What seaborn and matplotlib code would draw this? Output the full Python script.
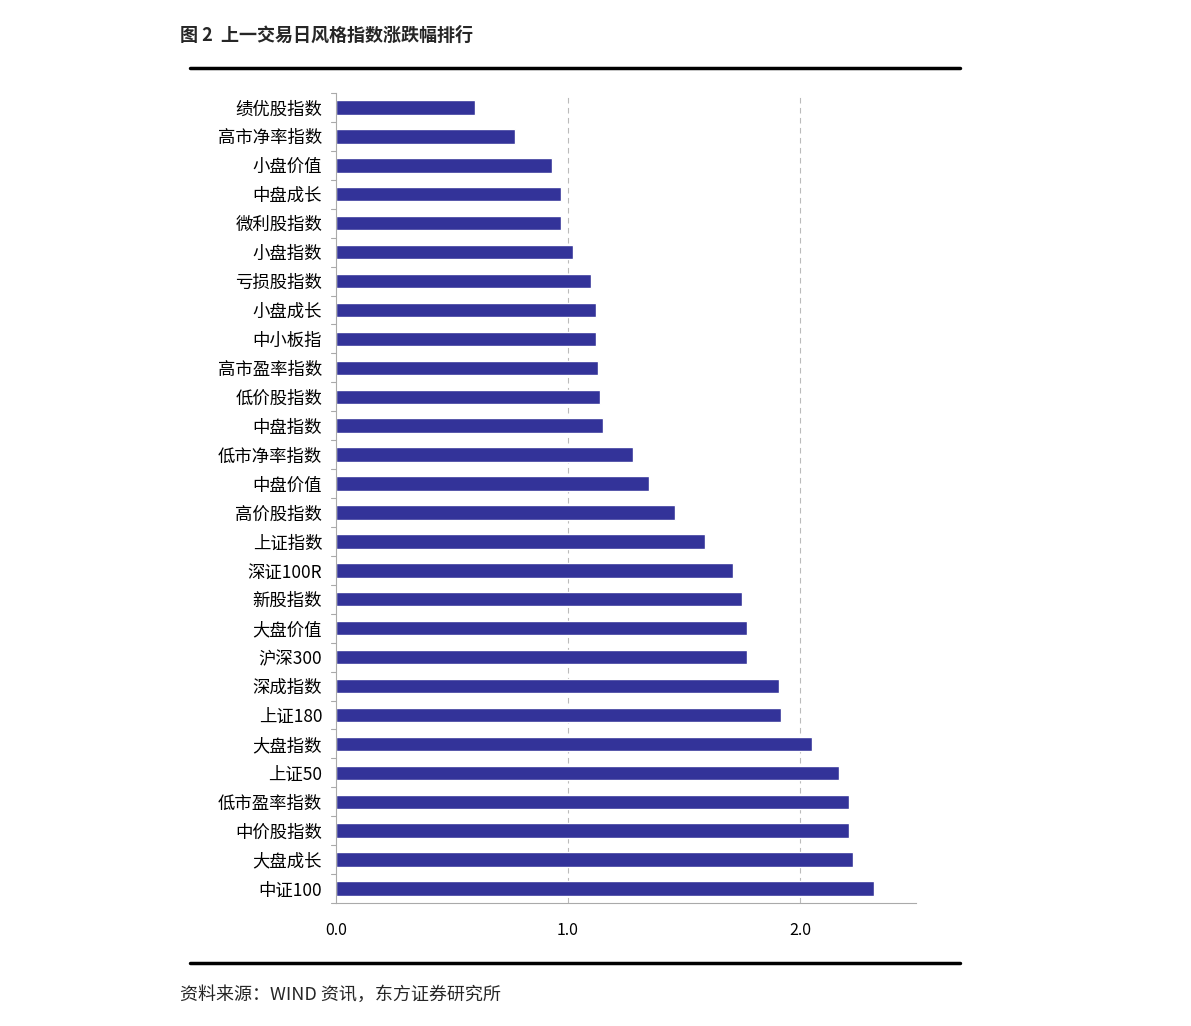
import matplotlib
matplotlib.use("Agg")
import matplotlib.pyplot as plt
import seaborn as sns
import pandas as pd
from matplotlib.lines import Line2D

sns.set_theme(style="white")
plt.rcParams['font.family'] = ['Noto Sans CJK SC', 'DejaVu Sans']

categories = ["绩优股指数", "高市净率指数", "小盘价值", "中盘成长", "微利股指数", "小盘指数",
              "亏损股指数", "小盘成长", "中小板指", "高市盈率指数", "低价股指数", "中盘指数",
              "低市净率指数", "中盘价值", "高价股指数", "上证指数", "深证100R", "新股指数",
              "大盘价值", "沪深300", "深成指数", "上证180", "大盘指数", "上证50",
              "低市盈率指数", "中价股指数", "大盘成长", "中证100"]
values = [0.60, 0.77, 0.93, 0.97, 0.97, 1.02,
          1.10, 1.12, 1.12, 1.13, 1.14, 1.15,
          1.28, 1.35, 1.46, 1.59, 1.71, 1.75,
          1.77, 1.77, 1.91, 1.92, 2.05, 2.17,
          2.21, 2.21, 2.23, 2.32]
xticks = [0.0, 1.0, 2.0]
xtick_labels = ["0.0", "1.0", "2.0"]
title = "图 2  上一交易日风格指数涨跌幅排行"
source = "资料来源：WIND 资讯，东方证券研究所"

df = pd.DataFrame({"cat": categories, "val": values})

fig = plt.figure(figsize=(11.91, 10.26), dpi=100)
ax = fig.add_axes([336/1191, 1-903/1026, (916-336)/1191, (903-93)/1026])

sns.barplot(data=df, x="val", y="cat", orient="h", color="#333399", saturation=1,
            width=0.5, ax=ax, order=categories)

ax.set_xlim(0, 2.5)
ax.set_ylim(len(categories) - 0.5, -0.5)
ax.set_xticks(xticks)
ax.set_xticklabels(xtick_labels, fontsize=11.5, color="#000000")
ax.set_xlabel("")
ax.set_ylabel("")
ax.tick_params(axis="x", pad=14, length=4, color="#aaaaaa", direction="in")
ax.tick_params(axis="y", length=0, pad=10, labelsize=12.5, labelcolor="#000000")

for x in [1.0, 2.0]:
    ax.axvline(x, color="#bbbbbb", linestyle=(0, (5, 4)), linewidth=0.8, zorder=0)

# category boundary tick marks on y axis
for i in range(len(categories) + 1):
    ax.plot([-0.02, 0], [i - 0.5, i - 0.5], color="#aaaaaa", linewidth=0.8,
            transform=ax.transData, clip_on=False)

for s in ["top", "right"]:
    ax.spines[s].set_visible(False)
ax.spines["left"].set_color("#aaaaaa")
ax.spines["bottom"].set_color("#aaaaaa")
ax.spines["left"].set_linewidth(0.8)
ax.spines["bottom"].set_linewidth(0.8)

fig.text(180/1191, 1-35/1026, title, fontsize=13, fontweight="bold", ha="left", va="center")
fig.add_artist(Line2D([190/1191, 960/1191], [1-68/1026, 1-68/1026], color="black", linewidth=2.5))
fig.add_artist(Line2D([190/1191, 960/1191], [1-963/1026, 1-963/1026], color="black", linewidth=2.5))
fig.text(180/1191, 1-995/1026, source, fontsize=13, ha="left", va="center")

fig.savefig("out.png", dpi=100, facecolor="white")
